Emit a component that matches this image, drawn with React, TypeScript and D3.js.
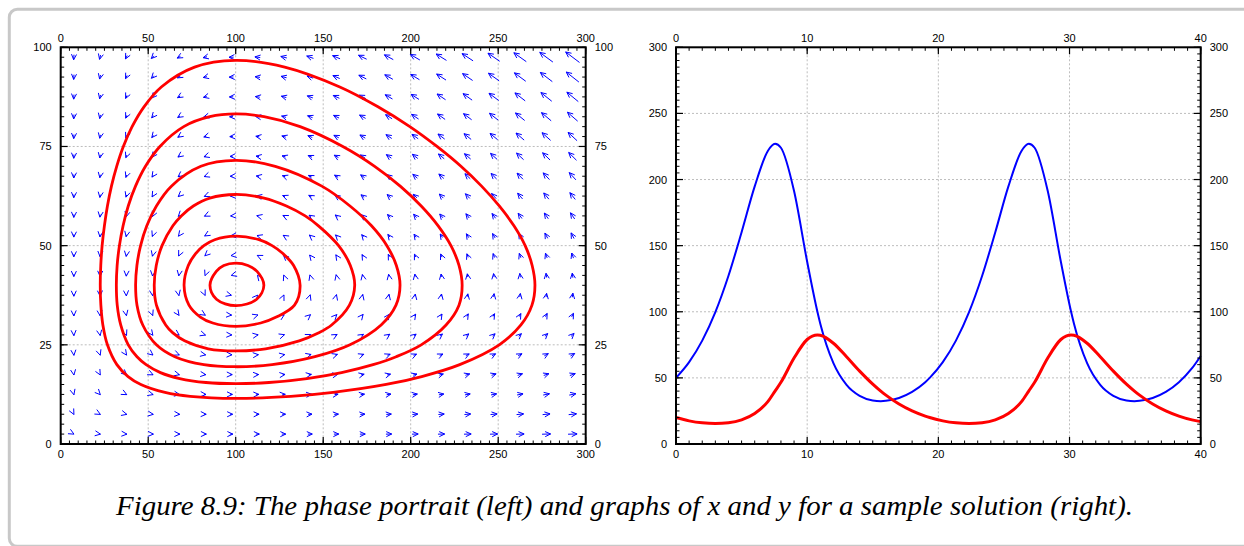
import React from 'react';
import * as d3 from 'd3';

// ---- Lotka–Volterra direction field (model: equilibrium at (100, 40)) ----
const PREY_GROWTH = 0.4;
const PREDATION = 0.01;
const PREDATOR_DEATH = 0.3;
const CONVERSION = 0.003;
const ARROW_SCALE = 0.047;

const fieldX = [7.5, 22.5, 37.5, 52.5, 67.5, 82.5, 97.5, 112.5, 127.5, 142.5, 157.5, 172.5, 187.5, 202.5, 217.5, 232.5, 247.5, 262.5, 277.5, 292.5];
const fieldY = [2.5, 7.5, 12.5, 17.5, 22.5, 27.5, 32.5, 37.5, 42.5, 47.5, 52.5, 57.5, 62.5, 67.5, 72.5, 77.5, 82.5, 87.5, 92.5, 97.5];

// ---- closed orbits in the phase plane (x = prey, y = predator) ----
const orbit1: [number, number][] = [[100,11.48],[74,12],[59.6,13],[45.8,15],[38.5,17],[32.1,20],[26.7,25],[24.1,30],[22.95,35],[22.6,40],[22.9,45],[23.67,50],[24.97,55],[26.7,60],[29,65],[32,70],[35.8,75],[40.8,80],[47.6,85],[57.5,90],[76.5,95],[100,96.7],[128,95],[159.5,90],[181.3,85],[199.5,80],[215,75],[228.7,70],[240.5,65],[250.6,60],[259,55],[265.4,50],[269.4,45],[271,40],[269.3,35],[263,30],[250.6,25],[228,20],[206.3,17],[186,15],[155.7,13],[131.5,12]];
const orbit2: [number, number][] = [[100,15.2],[83,15.5],[68,16.5],[57,18],[48.8,20],[43.6,22],[38.6,25],[34.3,30],[32.3,35],[31.8,40],[32.25,45],[33.55,50],[35.65,55],[38.6,60],[42.75,65],[48.45,70],[56.7,75],[70.3,80],[85.2,82.5],[100,83.2],[116.2,82.5],[136.8,80],[161.2,75],[179.4,70],[194,65],[206,60],[215.7,55],[223,50],[227.6,45],[229.4,40],[227.6,35],[220.2,30],[206,25],[191.7,22],[178.5,20],[160.5,18],[140.7,16.5],[119,15.5]];
const orbit3: [number, number][] = [[100,19.48],[81.8,20],[65.2,22],[54.7,25],[46.9,30],[43.6,35],[42.8,40],[43.55,45],[45.65,50],[49.2,55],[54.7,60],[63.25,65],[80.1,70],[100,71.5],[122.6,70],[149.2,65],[165.3,60],[177.6,55],[186.4,50],[191.8,45],[193.9,40],[191.6,35],[183.1,30],[165.3,25],[145.3,22],[120.8,20]];
const orbit4: [number, number][] = [[100,23.46],[84.3,24],[70.8,26],[64.1,28],[60,30],[54.7,35],[53.45,40],[54.6,45],[57.9,50],[64.1,55],[68.9,57.5],[75.8,60],[85.2,62],[100,62.9],[116.2,62],[129,60],[139.7,57.5],[147.3,55],[158.8,50],[165.5,45],[168,40],[165,35],[154.8,30],[147.2,28],[136.3,26],[117.1,24]];
const orbit5: [number, number][] = [[100,29.66],[86.9,30.5],[79.8,32],[73.3,35],[70.5,40],[72.9,45],[77.1,48],[81.8,50],[88,51.5],[100,52.4],[113.3,51.5],[120.8,50],[127,48],[133.1,45],[136.8,40],[133.6,35],[123.2,32],[114.3,30.5]];
const orbit6: [number, number][] = [[100,34.86],[89,36.5],[85.3,40],[88.9,43.5],[93.2,45],[100,45.6],[107,45],[112.2,43.5],[116.1,40],[112,36.5]];
const orbits = [orbit1, orbit2, orbit3, orbit4, orbit5, orbit6];

// ---- sample solution x(t), y(t) ----
const timeValues = [0,1,2,3,4,5,6,7,7.55,8,9,10,10.78,11,12,13,14,15,15.61,16,17,18,19,
  19.34,20.34,21.34,22.34,23.34,24.34,25.34,26.34,26.89,27.34,28.34,29.34,30.12,30.34,31.34,32.34,33.34,34.34,34.95,35.34,36.34,37.34,38.34,39.34,40];
const preyValues = [50,61.89,78.15,99.72,127.23,160.13,194.8,221.57,227,224.05,191.26,137.8,100,90.96,61.14,44.73,36.43,32.94,32.4,32.62,34.81,39.42,46.73,
  50,61.89,78.15,99.72,127.23,160.13,194.8,221.57,227,224.05,191.26,137.8,100,90.96,61.14,44.73,36.43,32.94,32.4,32.62,34.81,39.42,46.73,57.3,66.6];
const predatorValues = [20,17.51,15.99,15.44,16.05,18.28,23.07,32.04,40,46.69,65.02,79.03,82.5,82.2,76.19,65.98,55.12,45.27,40,36.98,30.29,25.07,21.12,
  20,17.51,15.99,15.44,16.05,18.28,23.07,32.04,40,46.69,65.02,79.03,82.5,82.2,76.19,65.98,55.12,45.27,40,36.98,30.29,25.07,21.12,18.27,16.92];

// ---- tick labels ----
const phaseXTicks = [0, 50, 100, 150, 200, 250, 300];
const phaseYTicks = [0, 25, 50, 75, 100];
const timeTicks = [0, 10, 20, 30, 40];
const valueTicks = [0, 50, 100, 150, 200, 250, 300];

const caption = 'Figure 8.9: The phase portrait (left) and graphs of x and y for a sample solution (right).';

const FONT = "'Liberation Sans', Arial, Helvetica, sans-serif";

type Scale = d3.ScaleLinear<number, number>;

function Axes({ sx, sy, xMajor, yMajor, xMinorStep, yMinorStep, children }: {
  sx: Scale; sy: Scale; xMajor: number[]; yMajor: number[]; xMinorStep: number; yMinorStep: number; children?: React.ReactNode;
}) {
  const [x0, x1] = sx.range();
  const [y1, y0] = sy.range();
  const [dx0, dx1] = sx.domain();
  const [dy0, dy1] = sy.domain();
  const xMinor = d3.range(dx0, dx1 + 1e-9, xMinorStep);
  const yMinor = d3.range(dy0, dy1 + 1e-9, yMinorStep);
  const major = 7, minor = 3.5;
  return (
    <g>
      {xMajor.slice(1, -1).map((v) => (
        <line key={'gx' + v} x1={sx(v)} x2={sx(v)} y1={y0} y2={y1} stroke="#bdbdbd" strokeWidth={1} strokeDasharray="2,2" />
      ))}
      {yMajor.slice(1, -1).map((v) => (
        <line key={'gy' + v} x1={x0} x2={x1} y1={sy(v)} y2={sy(v)} stroke="#bdbdbd" strokeWidth={1} strokeDasharray="2,2" />
      ))}
      {children}
      {xMinor.map((v, i) => (
        <g key={'mx' + i}>
          <line x1={sx(v)} x2={sx(v)} y1={y1} y2={y1 - minor} stroke="#000" strokeWidth={1} />
          <line x1={sx(v)} x2={sx(v)} y1={y0} y2={y0 + minor} stroke="#000" strokeWidth={1} />
        </g>
      ))}
      {yMinor.map((v, i) => (
        <g key={'my' + i}>
          <line x1={x0} x2={x0 + minor} y1={sy(v)} y2={sy(v)} stroke="#000" strokeWidth={1} />
          <line x1={x1} x2={x1 - minor} y1={sy(v)} y2={sy(v)} stroke="#000" strokeWidth={1} />
        </g>
      ))}
      {xMajor.map((v) => (
        <g key={'Mx' + v}>
          <line x1={sx(v)} x2={sx(v)} y1={y1} y2={y1 - major} stroke="#000" strokeWidth={1.2} />
          <line x1={sx(v)} x2={sx(v)} y1={y0} y2={y0 + major} stroke="#000" strokeWidth={1.2} />
          <text x={sx(v)} y={y0 - 5} textAnchor="middle" fontSize={11} fontFamily={FONT}>{v}</text>
          <text x={sx(v)} y={y1 + 14} textAnchor="middle" fontSize={11} fontFamily={FONT}>{v}</text>
        </g>
      ))}
      {yMajor.map((v) => (
        <g key={'My' + v}>
          <line x1={x0} x2={x0 + major} y1={sy(v)} y2={sy(v)} stroke="#000" strokeWidth={1.2} />
          <line x1={x1} x2={x1 - major} y1={sy(v)} y2={sy(v)} stroke="#000" strokeWidth={1.2} />
          <text x={x0 - 9} y={sy(v) + 4} textAnchor="end" fontSize={11} fontFamily={FONT}>{v}</text>
          <text x={x1 + 9} y={sy(v) + 4} textAnchor="start" fontSize={11} fontFamily={FONT}>{v}</text>
        </g>
      ))}
      <rect x={x0} y={y0} width={x1 - x0} height={y1 - y0} fill="none" stroke="#000" strokeWidth={2} />
    </g>
  );
}

function DirectionField({ sx, sy }: { sx: Scale; sy: Scale }) {
  const headLen = 6;
  const headAngle = (25 * Math.PI) / 180;
  const arrows: React.ReactNode[] = [];
  fieldX.forEach((x) => {
    fieldY.forEach((y) => {
      const u = x * (PREY_GROWTH - PREDATION * y) * ARROW_SCALE;
      const v = y * (-PREDATOR_DEATH + CONVERSION * x) * ARROW_SCALE;
      const tx = sx(x - u / 2), ty = sy(y - v / 2);
      const hx = sx(x + u / 2), hy = sy(y + v / 2);
      const px = sx(x + u) - sx(x), py = sy(y + v) - sy(y);
      const ang = Math.atan2(py, px);
      const a1 = ang + Math.PI - headAngle, a2 = ang + Math.PI + headAngle;
      const d = `M${tx},${ty}L${hx},${hy}M${hx + headLen * Math.cos(a1)},${hy + headLen * Math.sin(a1)}L${hx},${hy}L${hx + headLen * Math.cos(a2)},${hy + headLen * Math.sin(a2)}`;
      arrows.push(<path key={x + '-' + y} d={d} fill="none" stroke="#0000ff" strokeWidth={1} strokeLinejoin="miter" />);
    });
  });
  return <g>{arrows}</g>;
}

export default function App() {
  const sxL = d3.scaleLinear().domain([0, 300]).range([60.7, 585.7]);
  const syL = d3.scaleLinear().domain([0, 100]).range([444, 47.3]);
  const sxR = d3.scaleLinear().domain([0, 40]).range([676, 1200.7]);
  const syR = d3.scaleLinear().domain([0, 300]).range([444, 47.3]);

  const orbitLine = d3.line<[number, number]>()
    .x((d) => sxL(d[0]))
    .y((d) => syL(d[1]))
    .curve(d3.curveCatmullRomClosed.alpha(0.5));

  const idx = timeValues.map((_, i) => i);
  const preyLine = d3.line<number>().x((i) => sxR(timeValues[i])).y((i) => syR(preyValues[i])).curve(d3.curveMonotoneX);
  const predLine = d3.line<number>().x((i) => sxR(timeValues[i])).y((i) => syR(predatorValues[i])).curve(d3.curveMonotoneX);

  return (
    <svg width={1244} height={546} style={{ position: 'absolute', left: 0, top: 0, background: '#fff' }}>
      <rect x={9.3} y={9.3} width={1250} height={537} rx={8} ry={8} fill="none" stroke="#c8c8c8" strokeWidth={3} />
      <Axes sx={sxL} sy={syL} xMajor={phaseXTicks} yMajor={phaseYTicks} xMinorStep={5} yMinorStep={2.5}>
        <DirectionField sx={sxL} sy={syL} />
        {orbits.map((o, i) => (
          <path key={'orbit' + i} d={orbitLine(o) || ''} fill="none" stroke="#ff0000" strokeWidth={2.8} />
        ))}
      </Axes>
      <Axes sx={sxR} sy={syR} xMajor={timeTicks} yMajor={valueTicks} xMinorStep={1} yMinorStep={5}>
        <path d={preyLine(idx) || ''} fill="none" stroke="#0000ff" strokeWidth={2} />
        <path d={predLine(idx) || ''} fill="none" stroke="#ff0000" strokeWidth={3} />
      </Axes>
      <text x={116} y={515} fontFamily="'Liberation Serif', 'Times New Roman', serif" fontStyle="italic" fontSize={27}
        textLength={1017} lengthAdjust="spacingAndGlyphs">{caption}</text>
    </svg>
  );
}
